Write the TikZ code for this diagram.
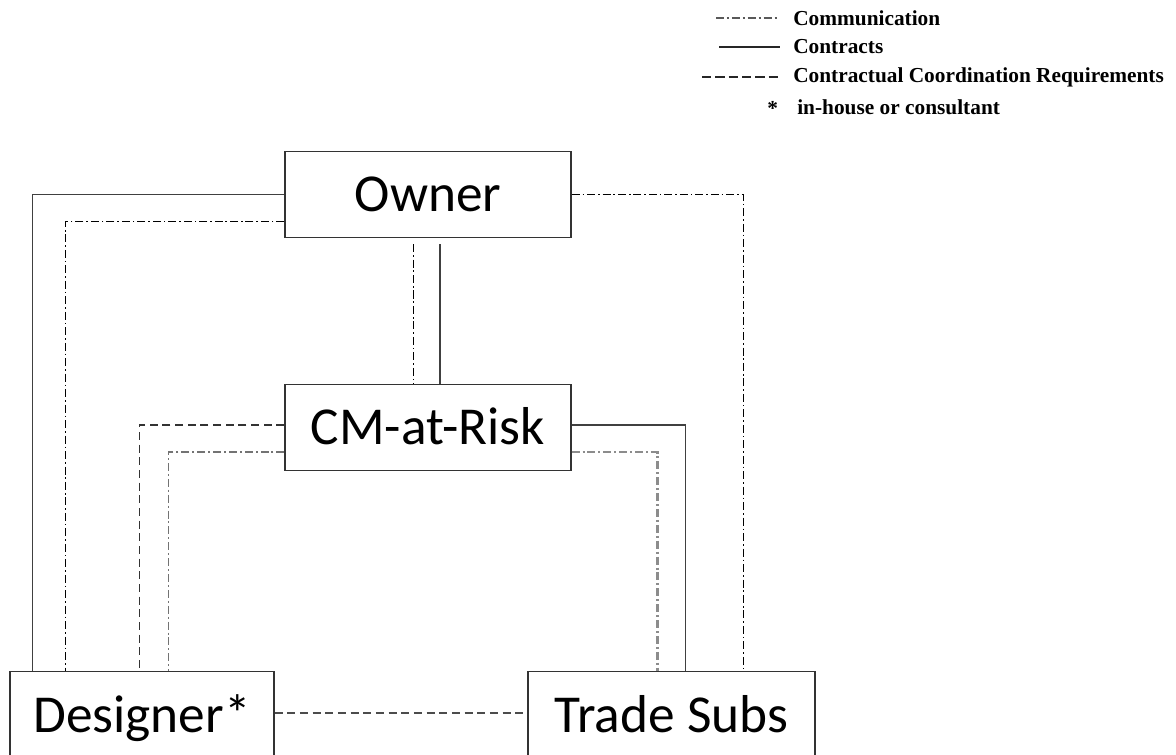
\documentclass[tikz,border=0pt]{standalone}
\usepackage{fontspec}
\setmainfont{Liberation Serif}
\newfontfamily\boxfont{Carlito}
\usetikzlibrary{calc}

\tikzset{
  partybox/.style={draw=black!80, line width=0.9pt, inner sep=0pt,
    text height=25.8pt, text depth=0pt,
    minimum height=64.5pt, font=\boxfont\fontsize{40}{48}\selectfont},
  contract/.style={black!75, line width=1.1pt},
  comm/.style={black, line width=0.6pt, dash pattern=on 6pt off 2.2pt on 1.2pt off 2.2pt},
  commgray/.style={black!55, line width=1pt, dash pattern=on 6pt off 2.2pt on 1.5pt off 2.2pt},
  coord/.style={black!80, line width=0.8pt, dash pattern=on 6pt off 3.5pt},
  legtext/.style={anchor=west, inner sep=0pt, font=\fontsize{16}{19}\selectfont\bfseries},
}

\begin{document}
\begin{tikzpicture}[x=0.75pt, y=-0.75pt]
  \useasboundingbox (0,0) rectangle (1176,755);
  \clip (0,0) rectangle (1176,755);
  % legend
  \coordinate (lgA) at (716,18);
  \coordinate (lgB) at (719,47);
  \coordinate (lgC) at (702,77);
  \node[legtext] (lgcomm) at (793,18) {Communication};
  \node[legtext] (lgcontr) at (793,47) {Contracts};
  \node[legtext] (lgcoord) at (793,77) {Contractual Coordination Requirements};
  \node[legtext] (lgstar) at (767,108) {*};
  \node[legtext] (lgnote) at (797,107) {in-house or consultant};
  \draw[commgray, black!65, line width=0.8pt] (lgA) -- ($(lgcomm.west)+(-16,0)$);
  \draw[contract, black!85] (lgB) -- ($(lgcontr.west)+(-13,0)$);
  \draw[coord, black!85, dash pattern=on 7pt off 3pt] (lgC) -- ($(lgcoord.west)+(-15,0)$);
  % parties
  \node[partybox, minimum width=214.5pt] (owner) at (428,194.5) {Owner};
  \node[partybox, minimum width=214.5pt] (cm) at (428,427.5) {CM-at-Risk};
  \node[partybox, minimum width=198pt, minimum height=65.25pt] (designer) at (142,715) {Designer*};
  \node[partybox, minimum width=215.25pt, minimum height=65.25pt] (trade) at (671.5,715) {Trade Subs};
  % contracts
  \draw[contract] (owner.west) -| ($(designer.north west)+(23,0)$);
  \draw[contract, shorten <=4.5pt] ($(owner.south)+(12,0)$) -- ($(cm.north)+(12,0)$);
  \draw[contract] ($(cm.east)+(0,-2.5)$) -| ($(trade.north west)+(158,0)$);
  % communication
  \draw[comm] ($(owner.west)+(0,27)$) -| ($(designer.north west)+(56,0)$);
  \draw[comm, shorten <=4.5pt] ($(owner.south)+(-15,0)$) -- ($(cm.north)+(-15,0)$);
  \draw[comm] (owner.east) -| ($(trade.north west)+(216,0)$);
  \draw[commgray] ($(cm.west)+(0,24.5)$) -| ($(designer.north west)+(159,0)$);
  \draw[commgray, black!45, line width=2pt] ($(cm.east)+(0,24.5)$) -| ($(trade.north west)+(130,0)$);
  % coordination
  \draw[coord] ($(cm.west)+(0,-2.5)$) -| ($(designer.north west)+(130,0)$);
  \draw[coord, black!70] ($(designer.east)+(0,-2)$) -- ($(trade.west)+(0,-2)$);
\end{tikzpicture}
\end{document}
